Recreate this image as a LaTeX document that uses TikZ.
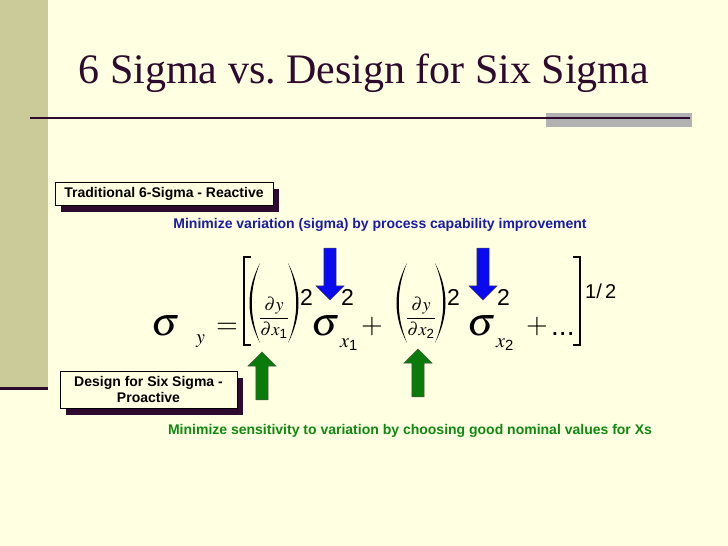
\documentclass[tikz,border=0pt]{standalone}
\usepackage{amsmath}
\usepackage{mathptmx}
\usepackage{fontspec}
\setmainfont{Liberation Serif}
\setsansfont{Liberation Sans}
\usepackage{xcolor}
\usepackage{tikz}
\usetikzlibrary{positioning, shadows, shapes.arrows}

\definecolor{cream}{HTML}{FFFFE1}
\definecolor{olivebar}{HTML}{CBCB9A}
\definecolor{plum}{HTML}{2E0A2E}
\definecolor{navytext}{HTML}{1A1AA8}
\definecolor{greentext}{HTML}{0F8A0F}
\definecolor{arrowblue}{HTML}{0A0AF0}
\definecolor{arrowgreen}{HTML}{0A7A0A}

\tikzset{
  tag/.style={draw=black, fill=cream, align=center, inner sep=0pt,
    font=\sffamily\bfseries\fontsize{14}{16}\selectfont,
    drop shadow={shadow xshift=6pt, shadow yshift=-7pt, fill=plum, opacity=1}},
  note/.style={font=\sffamily\bfseries\fontsize{14}{16}\selectfont},
  fatarrow/.style={single arrow, draw=black!70, inner sep=6pt,
    single arrow head extend=8pt, single arrow head indent=0pt},
  down/.style={fatarrow, fill=arrowblue, shape border rotate=270, minimum height=52pt},
  up/.style={fatarrow, fill=arrowgreen, shape border rotate=90, minimum height=48pt},
  mathbit/.style={inner sep=0pt, anchor=base west},
  bigmath/.style={mathbit, font=\fontsize{40}{44}\selectfont},
  relmath/.style={mathbit, anchor=base, font=\fontsize{28}{32}\selectfont},
  smallmath/.style={mathbit, font=\fontsize{20}{24}\selectfont},
  fracmath/.style={mathbit, font=\fontsize{18}{22}\selectfont},
  digit/.style={mathbit, font=\sffamily\fontsize{23}{26}\selectfont}
}

\begin{document}
\begin{tikzpicture}[x=1pt, y=-1pt]
        \fill[cream] (0,0) rectangle (728,546);
        \useasboundingbox (0,0) rectangle (728,546);
        \fill[olivebar] (0,0) rectangle (48,387);
        \fill[plum] (0,387) rectangle (48,390);
        \fill[gray!60] (546,113) rectangle (692,127);
        \draw[plum, line width=2.5pt] (30,118) -- (690,118);
%
        \node[anchor=base, text=plum, font=\fontsize{42}{48}\selectfont] (title) at (364,83)
            {6 Sigma vs.\ Design for Six Sigma};
%
        \node[tag, minimum width=218pt, minimum height=23pt] (react) at (164,193.5)
            {Traditional 6-Sigma - Reactive};
        \node[note, text=navytext] (capab) at (380,225)
            {Minimize variation (sigma) by process capability improvement};
%
        % sigma_y = [ ... ]^{1/2}
        \node[bigmath] (sy) at (151,335) {$\sigma$};
        \node[smallmath] (ysub) at (196,343) {$y$};
        \node[relmath] (equal) at (227,333) {$=$};
        \draw[line width=2.2pt] (251,257) -- (244,257) -- (244,345) -- (251,345);
        \draw[line width=2.2pt] (573,257) -- (580,257) -- (580,345) -- (573,345);
        \foreach \n/\X/\S in {1/250/311, 2/397/467} {
            \fill ({\X+10},263) .. controls ({\X-4},290) and ({\X-4},316) .. ({\X+10},343)
                .. controls ({\X-1},316) and ({\X-1},290) .. ({\X+10},263);
            \fill ({\X+38},263) .. controls ({\X+52},290) and ({\X+52},316) .. ({\X+38},343)
                .. controls ({\X+49},316) and ({\X+49},290) .. ({\X+38},263);
            \node[fracmath, anchor=base] (frac\n) at ({\X+24},323)
                {$\dfrac{\partial y}{\partial x_{\textsf{\n}}}$};
            \node[digit] (sq\n) at ({\X+50},305) {2};
            \node[bigmath] (sig\n) at (\S,335) {$\sigma$};
            \node[digit] (pow\n) at ({\S+30},305) {2};
            \node[smallmath] (xs\n) at ({\S+29},347) {$x_{\textsf{\n}}$};
        }
        \node[relmath] (plus1) at (372,333) {$+$};
        \node[relmath] (plus2) at (537,333) {$+$};
        \node[mathbit, font=\sffamily\fontsize{28}{30}\selectfont] (dots) at (551,335) {...};
        \node[mathbit, font=\sffamily\fontsize{20}{24}\selectfont] (half) at (585,298) {1/\,2};
%
        \node[down] (push1) at (330,271) {};
        \node[down] (push2) at (483,271) {};
        \node[up] (lift1) at (262,379) {};
        \node[up] (lift2) at (418,376) {};
%
        \node[tag, minimum width=177pt, minimum height=37pt] (proact) at (148.5,389.5)
            {Design for Six Sigma -\\Proactive};
        \node[note, text=greentext] (nominal) at (410,431)
            {Minimize sensitivity to variation by choosing good nominal values for Xs};
\end{tikzpicture}
\end{document}
